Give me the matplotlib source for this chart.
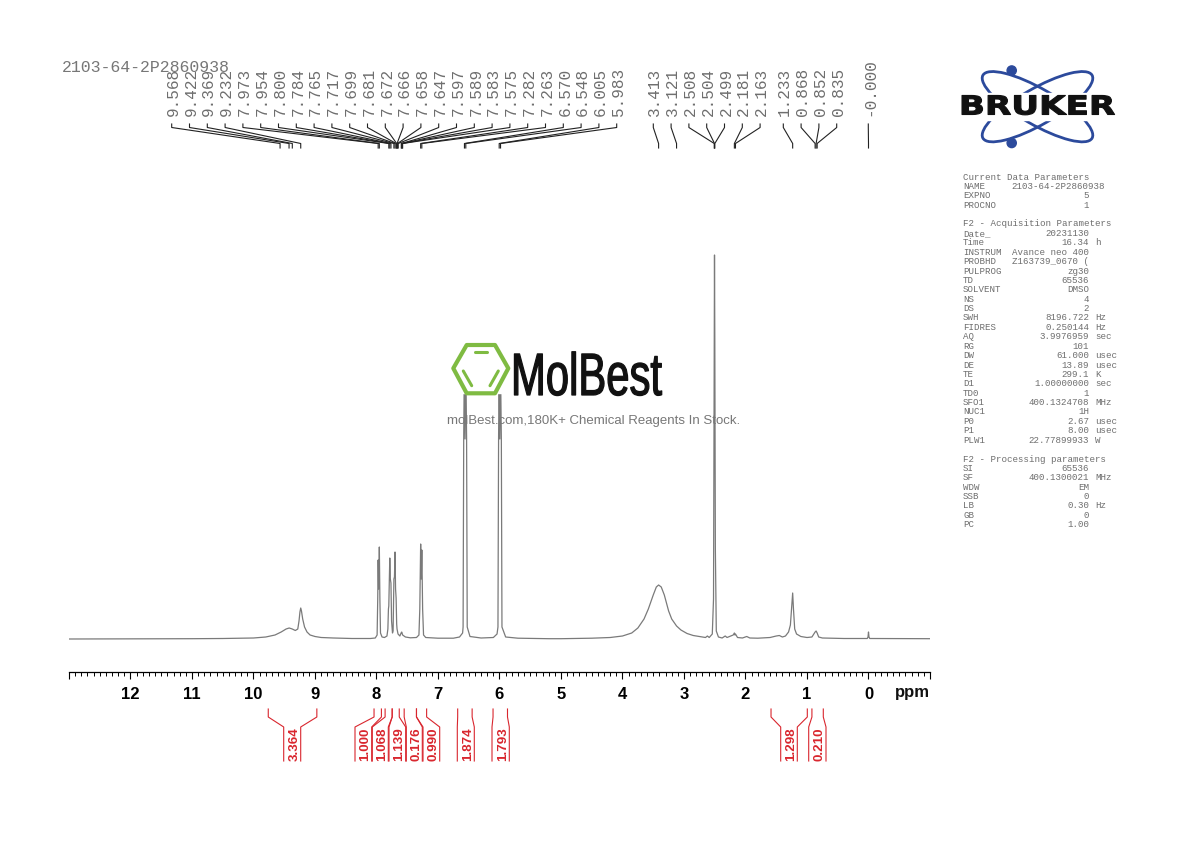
import matplotlib
matplotlib.use("Agg")
import matplotlib.pyplot as plt
from matplotlib.patches import Ellipse, Circle, Polygon, Rectangle
from matplotlib.patheffects import AbstractPathEffect
from matplotlib.transforms import Affine2D

# spectrum trace (ppm, height above the baseline)
trace_ppm = [13.0, 11.0, 10.5, 10.0, 9.8, 9.65, 9.55, 9.47, 9.42, 9.37, 9.32, 9.28, 9.26, 9.245, 9.232, 9.22, 9.2,
             9.17, 9.13, 9.08, 9.0, 8.9, 8.7, 8.4, 8.1, 8.02, 7.99, 7.98, 7.973, 7.965, 7.96, 7.954, 7.945, 7.935,
             7.91, 7.87, 7.83, 7.815, 7.806, 7.8, 7.792, 7.784, 7.775, 7.765, 7.755, 7.74, 7.73, 7.725, 7.717, 7.708,
             7.699, 7.69, 7.681, 7.672, 7.666, 7.65, 7.62, 7.6, 7.59, 7.575, 7.53, 7.45, 7.35, 7.31, 7.296, 7.282,
             7.272, 7.263, 7.25, 7.235, 7.2, 7.0, 6.75, 6.65, 6.6, 6.592, 6.582, 6.57, 6.56, 6.548, 6.535, 6.525,
             6.48, 6.3,
             6.1, 6.04, 6.025, 6.015, 6.005, 5.995, 5.983, 5.97, 5.96, 5.9, 5.7, 5.2, 5.0, 4.5, 4.2, 4.0, 3.85, 3.75,
             3.65,
             3.58, 3.5, 3.45, 3.413, 3.37, 3.32, 3.25, 3.2, 3.121, 3.05, 2.95, 2.85, 2.75, 2.65, 2.62, 2.59, 2.54,
             2.52, 2.508, 2.504, 2.499, 2.49, 2.475, 2.44, 2.38, 2.33, 2.3, 2.2, 2.181, 2.172, 2.163, 2.13, 2.05,
             1.98, 1.93, 1.8, 1.6, 1.5, 1.45, 1.4, 1.35, 1.3, 1.27, 1.25, 1.233, 1.22, 1.2, 1.17, 1.1, 1.0, 0.92,
             0.89, 0.868, 0.852, 0.835, 0.81, 0.75, 0.4, 0.02, 0.008, 0.0, -0.008, -0.02, -1.0]
trace_int = [0, 0.3, 0.5, 1, 2, 4, 7, 10, 11, 10, 8.5, 10, 18, 27, 31, 28, 20,
             12, 7, 4, 2.5, 1.5, 1, 0.5, 0.5, 1, 4, 40, 79, 50, 60, 92, 40, 6,
             2, 1.5, 3, 10, 30, 33, 60, 81, 60, 56, 18, 6, 8, 30, 60, 62,
             87, 50, 41, 15, 10, 5, 3, 6, 7, 4, 2, 1.2, 1.5, 4, 30, 95,
             60, 89, 30, 4, 1.5, 0.8, 0.8, 2, 6, 12, 200, 290, 200, 280, 200, 12,
             2.5, 1,
             1.5, 5, 12, 200, 280, 200, 270, 200, 12, 2, 0.8, 0.3, 0.3, 0.8, 1.5, 3, 6, 11,
             20,
             30, 44, 52, 54, 52, 44, 28, 20, 13, 9, 5.5, 3.5, 2.5, 1.5, 3, 1.5, 5,
             40, 300, 384, 300, 90, 8, 2, 1, 3, 1.5, 4, 6, 4, 5, 1.5, 1,
             2.5, 1, 0.8, 1.5, 3, 3.5, 2, 3, 7, 14, 32, 46, 30, 10, 5, 2.5, 1.5, 2,
             5, 7, 8, 6, 2, 1, 0.5, 0.5, 2, 7, 2, 0.5, 0.3]

peak_labels = ["9.568", "9.422", "9.369", "9.232", "7.973", "7.954", "7.800", "7.784", "7.765", "7.717", "7.699",
               "7.681", "7.672", "7.666", "7.658", "7.647", "7.597", "7.589", "7.583", "7.575", "7.282", "7.263",
               "6.570", "6.548", "6.005", "5.983", "3.413", "3.121", "2.508", "2.504", "2.499", "2.181", "2.163",
               "1.233", "0.868", "0.852", "0.835", "-0.000"]
peak_groups = [26, 7, 4, 1]

integral_values = ["3.364", "1.000", "1.068", "1.139", "0.176", "0.990", "1.874", "1.793", "1.298", "0.210"]
integral_start = [9.76, 8.04, 7.86, 7.745, 7.55, 7.35, 6.68, 6.105, 1.585, 0.92]
integral_end = [8.97, 7.92, 7.745, 7.63, 7.35, 7.185, 6.445, 5.87, 0.995, 0.735]

tick_values = [12, 11, 10, 9, 8, 7, 6, 5, 4, 3, 2, 1, 0]

param_rows = [("Current Data Parameters", "", ""), ("NAME", "2103-64-2P2860938", "@"), ("EXPNO", "5", ""),
              ("PROCNO", "1", ""), None, ("F2 - Acquisition Parameters", "", ""), ("Date_", "20231130", ""),
              ("Time", "16.34", "h"), ("INSTRUM", "Avance neo 400", ""), ("PROBHD", "Z163739_0670 (", ""),
              ("PULPROG", "zg30", ""), ("TD", "65536", ""), ("SOLVENT", "DMSO", ""), ("NS", "4", ""), ("DS", "2", ""),
              ("SWH", "8196.722", "Hz"), ("FIDRES", "0.250144", "Hz"), ("AQ", "3.9976959", "sec"), ("RG", "101", ""),
              ("DW", "61.000", "usec"), ("DE", "13.89", "usec"), ("TE", "299.1", "K"), ("D1", "1.00000000", "sec"),
              ("TD0", "1", ""), ("SFO1", "400.1324708", "MHz"), ("NUC1", "1H", ""), ("P0", "2.67", "usec"),
              ("P1", "8.00", "usec"), ("PLW1", "22.77899933", "W"), None, ("F2 - Processing parameters", "", ""),
              ("SI", "65536", ""), ("SF", "400.1300021", "MHz"), ("WDW", "EM", ""), ("SSB", "0", ""),
              ("LB", "0.30", "Hz"), ("GB", "0", ""), ("PC", "1.00", "")]

MONO = "Liberation Mono"
SANS = "Liberation Sans"
RED = "#d9262e"
BLUE = "#2c4a9c"
GREEN = "#7fbb42"


# stretches a text sideways around its anchor, the logos are wider or narrower than any font here
class Stretch(AbstractPathEffect):
    def __init__(self, cx, cy, sx, stroke=0):
        super().__init__()
        self.t = Affine2D().translate(-cx, -cy).scale(sx, 1).translate(cx, cy)
        self.stroke = stroke

    def draw_path(self, renderer, gc, tpath, affine, rgbFace=None):
        gc0 = renderer.new_gc()
        gc0.copy_properties(gc)
        gc0.set_linewidth(self.stroke)
        renderer.draw_path(gc0, tpath, affine + self.t, rgbFace)
        gc0.restore()


fig = plt.figure(figsize=(11.9, 8.42), dpi=100)

# spectrum axes, one y unit is one pixel, baseline sits at row 639
ax = fig.add_axes([69 / 1190, (842 - 672) / 842, 861 / 1190, 572 / 842])
ax.set_xlim(13, -1)
ax.set_ylim(-33, 539)
ax.patch.set_visible(False)
ax.plot(trace_ppm, trace_int, color="#7a7a7a", lw=0.9)
for s in ["top", "left", "right"]:
    ax.spines[s].set_visible(False)
ax.spines["bottom"].set_linewidth(0.9)
ax.set_yticks([])
ax.set_xticks(range(-1, 14))
ax.set_xticklabels(["" if v not in tick_values else str(v) for v in range(-1, 14)],
                   family=SANS, weight="bold", fontsize=12)
ax.set_xticks([v / 10 for v in range(-10, 131) if v % 10], minor=True)
ax.tick_params(axis="x", which="major", length=5, width=0.8, pad=5.5)
ax.tick_params(axis="x", which="minor", length=3, width=0.7)

# everything else is placed in image pixels
ov = fig.add_axes([0, 0, 1, 1], zorder=5)
ov.set_xlim(0, 1190)
ov.set_ylim(842, 0)
ov.axis("off")


def ppm_x(v):
    return ax.transData.transform((v, 0))[0]


ov.text(912, 693, "ppm", family=SANS, weight="bold", fontsize=12, ha="center", va="center", color="#111111")
ov.text(62, 68, "2103-64-2P2860938", family=MONO, fontsize=11.9, color="#777777", ha="left", va="center")

# peak labels and their connectors
starts = [171.7, 653.3, 783.3, 868.3]
i = 0
for start, n in zip(starts, peak_groups):
    for k in range(n):
        lx = start + k * 17.8
        ov.text(lx + 1.5, 116.5, peak_labels[i], family=MONO, fontsize=11.6, rotation=90,
                ha="center", va="bottom", color="#6e6e6e")
        px = ppm_x(abs(float(peak_labels[i])))
        ov.plot([lx, lx, px, px], [124, 127.5, 143.5, 148], color="#222222", lw=0.8)
        i += 1

# integrals
bottom_x = [(283.7, 300.7), (355, 371.7), (372.3, 388.3), (389, 405.7), (406.3, 422.3), (423, 439.7),
            (457.3, 474.3), (492, 509.3), (780.7, 797.3), (808.7, 826)]
for val, a, b, (l, r) in zip(integral_values, integral_start, integral_end, bottom_x):
    for p, q in ((a, l), (b, r)):
        x0 = ppm_x(p)
        ov.plot([x0, x0, q, q], [709, 717, 727, 761], color=RED, lw=0.8)
    ov.text((l + r) / 2 + 2, 744, val, family=SANS, fontsize=9.6, weight="bold", rotation=90,
            ha="center", va="center", color=RED)

# parameter block
for n, row in enumerate(param_rows):
    if row is None:
        continue
    y = 177 + n * 9.4
    key, value, unit = row
    ov.text(963, y, key, family=MONO, fontsize=6.6, color="#6e6e6e", ha="left", va="center")
    right = 1105 if unit == "@" else 1089
    ov.text(right, y, value, family=MONO, fontsize=6.6, color="#6e6e6e", ha="right", va="center")
    if unit and unit != "@":
        ov.text(1095, y, unit, family=MONO, fontsize=6.6, color="#6e6e6e", ha="left", va="center")

# Bruker logo
ov.add_patch(Ellipse((1037.5, 106.7), 126, 36, angle=30, fill=False, ec=BLUE, lw=2))
ov.add_patch(Ellipse((1037.5, 106.7), 126, 36, angle=-30, fill=False, ec=BLUE, lw=2))
ov.add_patch(Circle((1011.7, 70.5), 4.6, color=BLUE))
ov.add_patch(Circle((1011.7, 143), 4.6, color=BLUE))
ov.add_patch(Rectangle((955, 93), 165, 27, color="white", zorder=2))
cx, cy = ov.transData.transform((1037, 107.5))
ov.text(1037, 107.5, "BRUKER", family="DejaVu Sans", weight="bold", fontsize=18.8, color="#111111",
        ha="center", va="center", zorder=3, path_effects=[Stretch(cx, cy, 1.31, 0.8)])

# MolBest watermark, its white box hides the tops of the two big doublets
ov.add_patch(Rectangle((452, 338), 213, 55, color="white", zorder=2))
ov.add_patch(Polygon([(453.3, 368.3), (466.7, 345), (495, 345), (508.3, 368.3), (495, 393.3), (466.7, 393.3)],
                     closed=True, fill=False, ec=GREEN, lw=3, zorder=3, joinstyle="round"))
for xs, ys in (([475, 486.7], [352.3, 352.3]), ([463.3, 471.7], [371, 385.7]), ([498.3, 490], [371, 385.7])):
    ov.plot(xs, ys, color=GREEN, lw=2.2, zorder=3, solid_capstyle="round")
cx, cy = ov.transData.transform((511, 395))
ov.text(511, 395, "MolBest", family=SANS, fontsize=43, color="#111111", ha="left", va="baseline",
        zorder=3, path_effects=[Stretch(cx, cy, 0.70, 0.9)])
ov.text(594, 421, "molBest.com,180K+ Chemical Reagents In Stock.", family=SANS, fontsize=9.5, color="#777777",
        ha="center", va="center", zorder=4)

fig.savefig("out.png", dpi=100)
